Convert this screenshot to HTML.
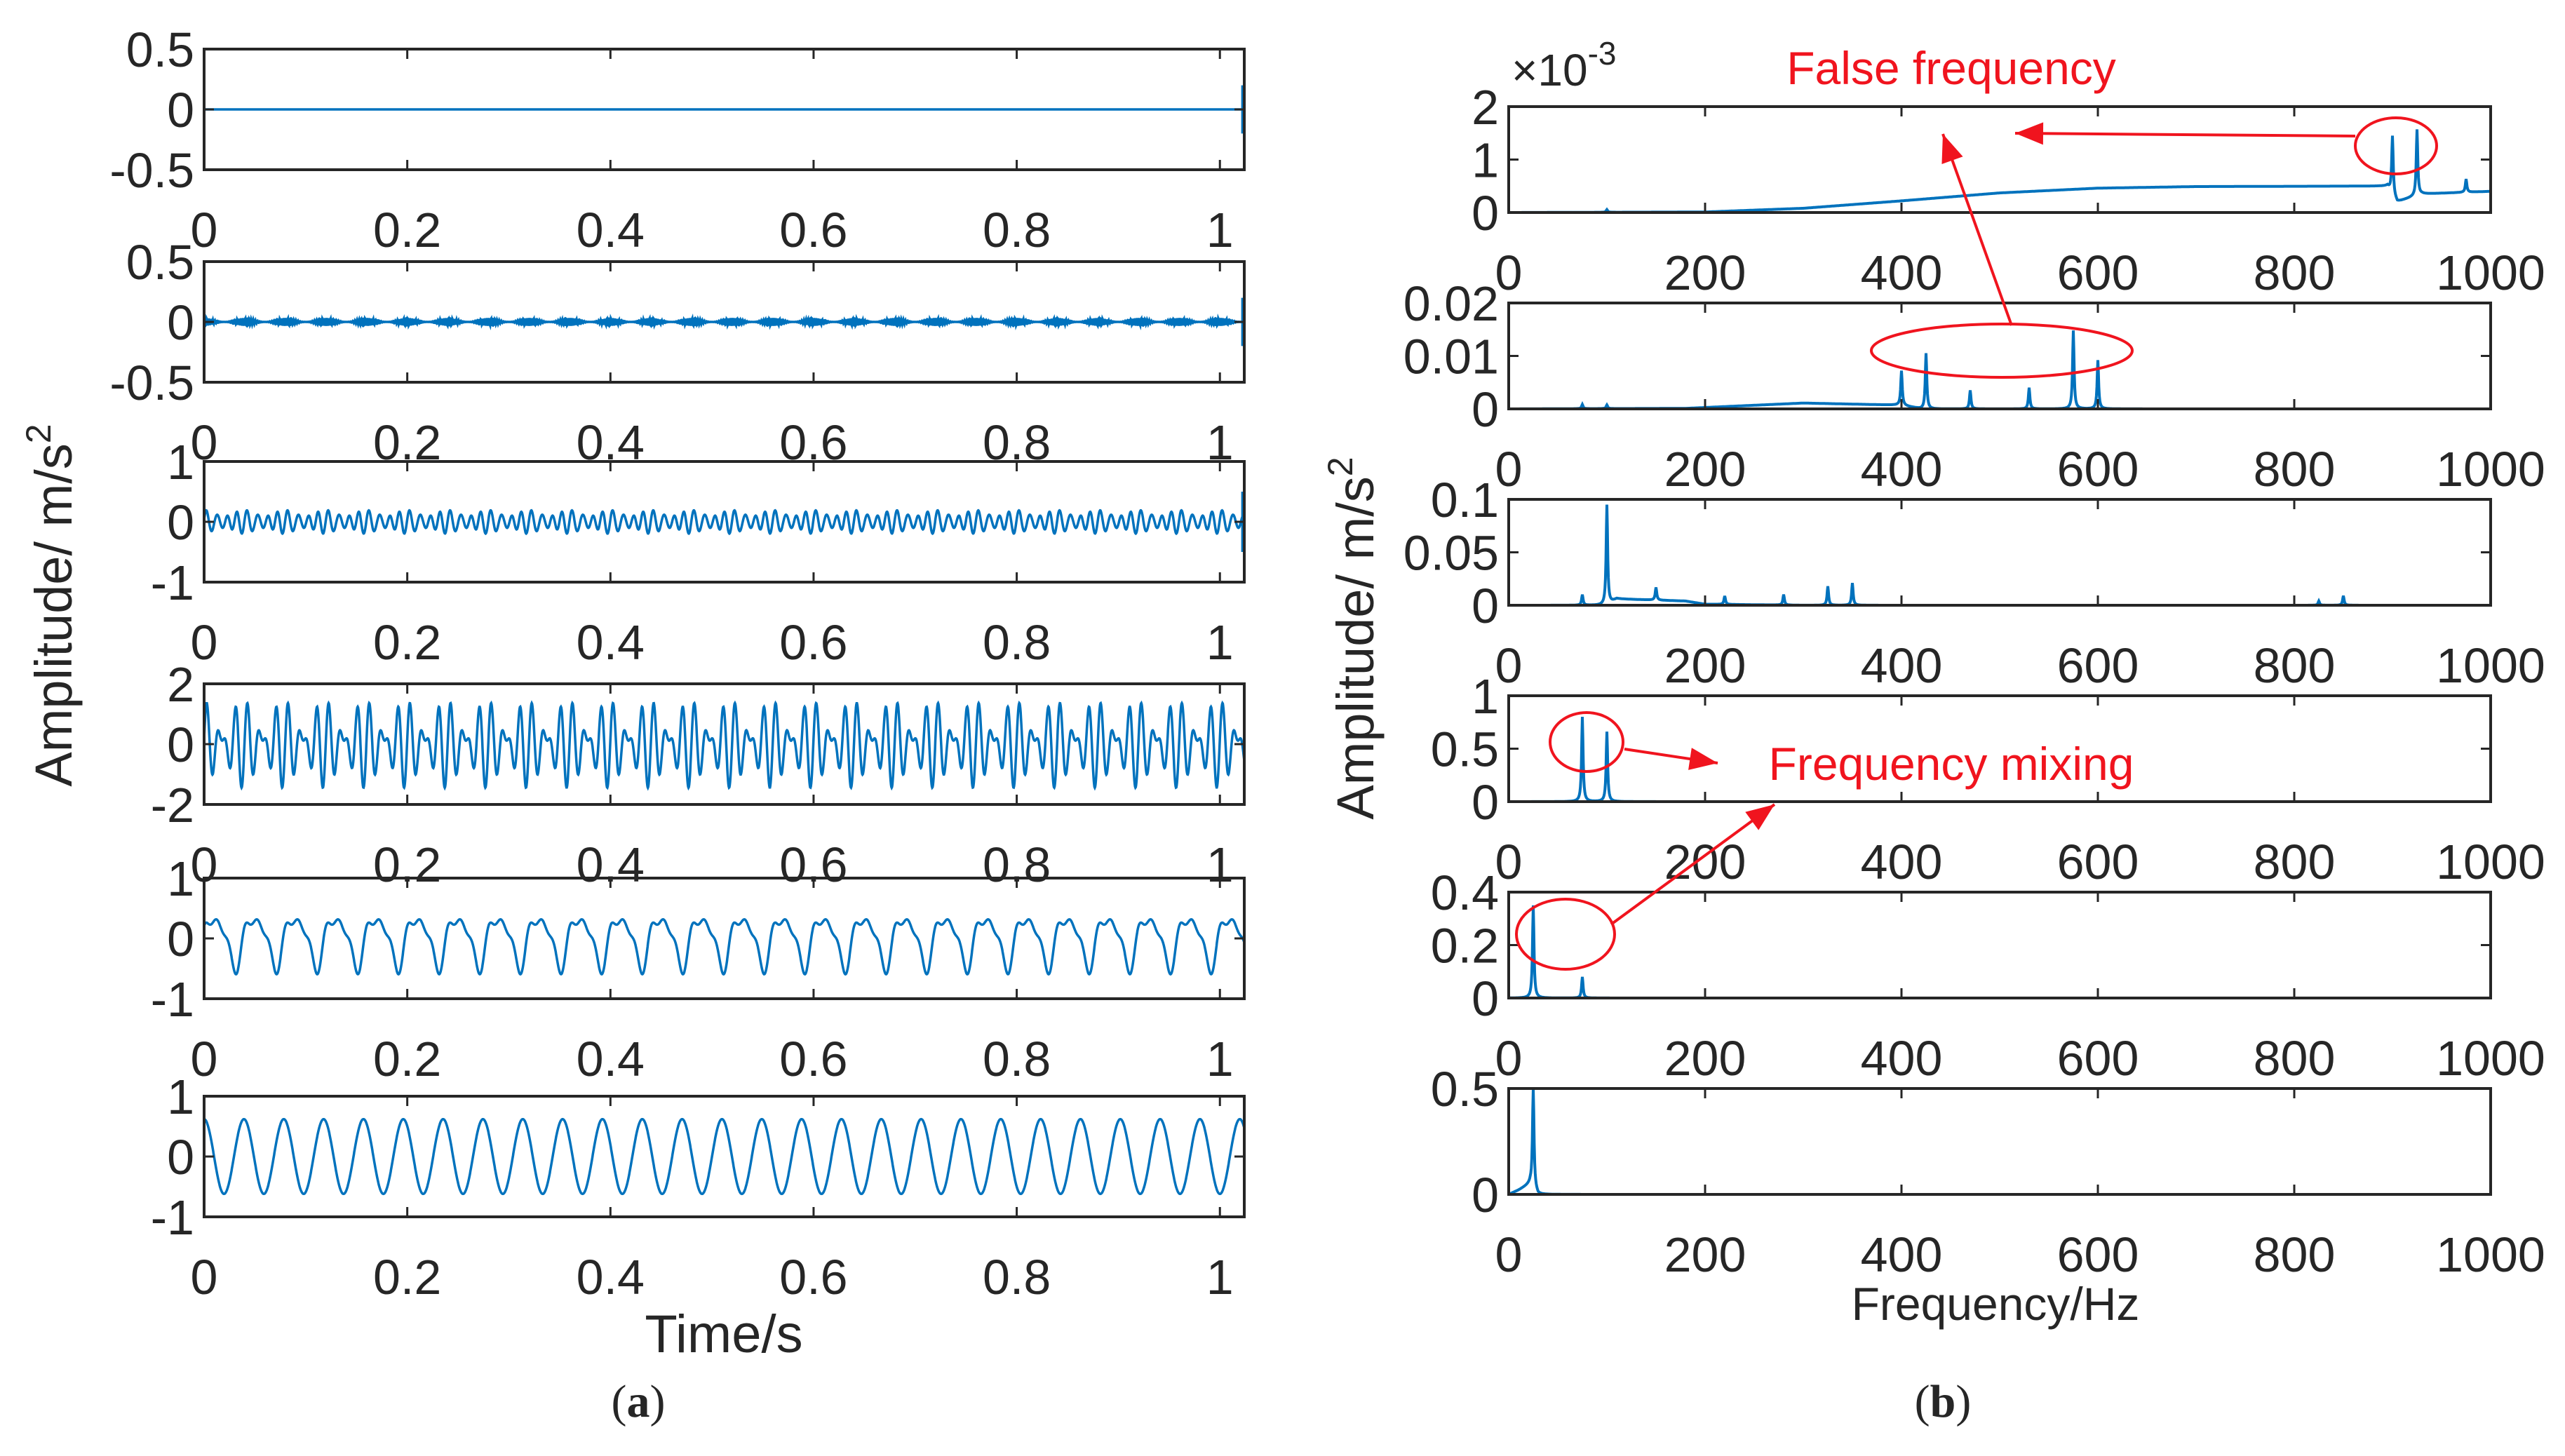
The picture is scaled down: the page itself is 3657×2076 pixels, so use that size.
<!DOCTYPE html>
<html><head><meta charset="utf-8"><style>
html,body{margin:0;padding:0;background:#fff}
svg{display:block}
text{font-family:"Liberation Sans",sans-serif;fill:#262626}
</style></head><body>
<svg id="fig" width="3657" height="2076" viewBox="0 0 3657 2076" xmlns="http://www.w3.org/2000/svg">
<g id="left"></g>
<g id="right"></g>
<text x="0" y="0" font-size="74" text-anchor="middle" transform="translate(102,863) rotate(-90)">Amplitude/  m/s<tspan dy="-30" font-size="50">2</tspan></text>
<text x="0" y="0" font-size="74" text-anchor="middle" transform="translate(1958,910) rotate(-90)">Amplitude/  m/s<tspan dy="-30" font-size="50">2</tspan></text>
<text x="1032" y="1928" font-size="76" text-anchor="middle">Time/s</text>
<text x="2845" y="1882" font-size="66" text-anchor="middle">Frequency/Hz</text>
<text x="910" y="2020" font-size="66" text-anchor="middle" style="font-family:'Liberation Serif',serif">(<tspan font-weight="bold">a</tspan>)</text>
<text x="2770" y="2020" font-size="66" text-anchor="middle" style="font-family:'Liberation Serif',serif">(<tspan font-weight="bold">b</tspan>)</text>
<text x="2155" y="122" font-size="64" fill="#444">×10<tspan dy="-30" font-size="46">-3</tspan></text>
<g id="annot">
<text x="2782" y="120" font-size="66" text-anchor="middle" style="fill:#f0141e">False frequency</text>
<text x="2782" y="1112" font-size="66" text-anchor="middle" style="fill:#f0141e">Frequency mixing</text>
<ellipse cx="3416" cy="208" rx="58" ry="40" fill="none" stroke="#f0141e" stroke-width="4"/>
<ellipse cx="2854" cy="500" rx="186" ry="38" fill="none" stroke="#f0141e" stroke-width="4"/>
<ellipse cx="2262" cy="1058" rx="52" ry="42" fill="none" stroke="#f0141e" stroke-width="4"/>
<ellipse cx="2232" cy="1332" rx="70" ry="50" fill="none" stroke="#f0141e" stroke-width="4"/>
</g>
</svg>
<script>
// ---------- data ----------
const timeTicks = [0, 0.2, 0.4, 0.6, 0.8, 1];
const timeTickLabels = ["0", "0.2", "0.4", "0.6", "0.8", "1"];
const freqTicks = [0, 200, 400, 600, 800, 1000];
const freqTickLabels = ["0", "200", "400", "600", "800", "1000"];
// time-domain components per panel: [freqHz, amplitude, phase]
const comp1 = [[0, 0, 0]];
const comp2 = [[500, 0.016, 0], [475, 0.008, 0], [525, 0.008, 0]];
const comp3 = [[100, 0.14, 0], [75, 0.04, 0.5], [125, 0.03, 1]];
const comp4 = [[75, 0.8, 0], [100, 0.65, 0.3]];
const comp5 = [[25, 0.38, 0], [50, 0.14, 1.2], [75, 0.09, 2.1]];
const comp6 = [[25.5, 0.62, 1.57]];
const timeYMin = [-0.5, -0.5, -1, -2, -1, -1];
const timeYMax = [0.5, 0.5, 1, 2, 1, 1];
const timeYTicks = [[-0.5, 0, 0.5], [-0.5, 0, 0.5], [-1, 0, 1], [-2, 0, 2], [-1, 0, 1], [-1, 0, 1]];
const timeYLabels = [["-0.5", "0", "0.5"], ["-0.5", "0", "0.5"], ["-1", "0", "1"], ["-2", "0", "2"], ["-1", "0", "1"], ["-1", "0", "1"]];
const endSpike = [0.4, 0.4, 0.5, 0, 0, 0];
// spectra: background knots [f, value] and peaks [f, height]
const bg1 = [[0, 0], [200, 0.01], [300, 0.08], [400, 0.22], [500, 0.37], [600, 0.46], [700, 0.49], [895, 0.5], [905, 0.2], [930, 0.35], [1000, 0.4]];
const pk1 = [[100, 0.05], [900, 1.1], [925, 1.25], [975, 0.25]];
const bg2 = [[0, 0], [180, 0.0001], [300, 0.0011], [400, 0.0007], [420, 0], [1000, 0]];
const pk2 = [[75, 0.0008], [100, 0.0007], [400, 0.0065], [425, 0.0105], [470, 0.0035], [530, 0.004], [575, 0.0148], [600, 0.0092]];
const bg3 = [[0, 0], [100, 0], [110, 0.006], [180, 0.004], [200, 0.001], [300, 0], [1000, 0]];
const pk3 = [[75, 0.01], [100, 0.095], [150, 0.012], [220, 0.008], [280, 0.01], [325, 0.018], [350, 0.021], [825, 0.004], [850, 0.009]];
const bg4 = [[0, 0], [1000, 0]];
const pk4 = [[75, 0.8], [100, 0.66]];
const bg5 = [[0, 0], [1000, 0]];
const pk5 = [[25, 0.35], [75, 0.08]];
const bg6 = [[0, 0], [10, 0.02], [22, 0.05], [30, 0], [1000, 0]];
const pk6 = [[25, 0.48]];
const specYMax = [2, 0.02, 0.1, 1, 0.4, 0.5];
const specYTicks = [[0, 1, 2], [0, 0.01, 0.02], [0, 0.05, 0.1], [0, 0.5, 1], [0, 0.2, 0.4], [0, 0.5]];
const specYLabels = [["0", "1", "2"], ["0", "0.01", "0.02"], ["0", "0.05", "0.1"], ["0", "0.5", "1"], ["0", "0.2", "0.4"], ["0", "0.5"]];

// ---------- layout ----------
const NS = "http://www.w3.org/2000/svg";
const BLUE = "#0072BD";
const leftBox = {x0: 291, x1: 1774};
const leftTops = [70, 373, 658, 975, 1252, 1563];
const leftH = 172;
const rightBox = {x0: 2151, x1: 3551};
const rightTops = [152, 432, 712, 992, 1272, 1552];
const rightH = 151;

function mk(tag, attrs, parent) {
  const e = document.createElementNS(NS, tag);
  for (const k in attrs) e.setAttribute(k, attrs[k]);
  parent.appendChild(e);
  return e;
}

function drawAxes(g, x0, x1, top, h, xt, xl, xmap, yt, yl, ymap, name) {
  const frame = mk("rect", {x: x0, y: top, width: x1 - x0, height: h, fill: "none", stroke: "#262626", "stroke-width": 4}, g);
  
  
  xt.forEach((v, i) => {
    const x = xmap(v);
    mk("line", {x1: x, x2: x, y1: top + h, y2: top + h - 14, stroke: "#262626", "stroke-width": 3}, g);
    mk("line", {x1: x, x2: x, y1: top, y2: top + 14, stroke: "#262626", "stroke-width": 3}, g);
    const t = mk("text", {x: x, y: top + h + 110, "font-size": 70, "text-anchor": "middle"}, g);
    
    
    t.textContent = xl[i];
  });
  yt.forEach((v, i) => {
    const y = ymap(v);
    mk("line", {x1: x0, x2: x0 + 14, y1: y, y2: y, stroke: "#262626", "stroke-width": 3}, g);
    mk("line", {x1: x1, x2: x1 - 14, y1: y, y2: y, stroke: "#262626", "stroke-width": 3}, g);
    const t = mk("text", {x: x0 - 14, y: y + 25, "font-size": 70, "text-anchor": "end"}, g);
    
    
    t.textContent = yl[i];
  });
}

// ---------- time domain ----------
const comps = [comp1, comp2, comp3, comp4, comp5, comp6];
const L = document.getElementById("left");
comps.forEach((cp, p) => {
  const g = mk("g", {}, L);
  
  
  const top = leftTops[p];
  const xmap = t => leftBox.x0 + t / 1.024 * (leftBox.x1 - leftBox.x0);
  const ymap = v => top + leftH - (v - timeYMin[p]) / (timeYMax[p] - timeYMin[p]) * leftH;
  let d = "";
  const N = 3000;
  for (let i = 0; i <= N; i++) {
    const t = i / N * 1.024;
    let v = 0;
    cp.forEach(c => { v += c[1] * Math.sin(2 * Math.PI * c[0] * t + c[2]); });
    d += (i ? "L" : "M") + xmap(t).toFixed(1) + "," + ymap(v).toFixed(1);
  }
  const line = mk("path", {d: d, fill: "none", stroke: BLUE, "stroke-width": 3.5}, g);
  
  
  if (endSpike[p] > 0) {
    const x = xmap(1.022);
    const s = mk("line", {x1: x, x2: x, y1: ymap(endSpike[p] * timeYMax[p]), y2: ymap(-endSpike[p] * timeYMax[p]), stroke: BLUE, "stroke-width": 3}, g);
    
    
  }
  drawAxes(g, leftBox.x0, leftBox.x1, top, leftH, timeTicks, timeTickLabels, xmap, timeYTicks[p], timeYLabels[p], ymap, 'time-' + (p + 1));
});

// ---------- spectra ----------
const bgs = [bg1, bg2, bg3, bg4, bg5, bg6];
const pks = [pk1, pk2, pk3, pk4, pk5, pk6];
const R = document.getElementById("right");
function bgAt(knots, f) {
  for (let i = 1; i < knots.length; i++) {
    if (f <= knots[i][0]) {
      const a = knots[i - 1], b = knots[i];
      const u = (f - a[0]) / (b[0] - a[0] || 1);
      return a[1] + u * (b[1] - a[1]);
    }
  }
  return knots[knots.length - 1][1];
}
bgs.forEach((bg, p) => {
  const g = mk("g", {}, R);
  
  
  const top = rightTops[p];
  const xmap = f => rightBox.x0 + f / 1000 * (rightBox.x1 - rightBox.x0);
  const ymap = v => top + rightH - v / specYMax[p] * rightH;
  let d = "";
  const step = 0.5;
  for (let f = 0, i = 0; f <= 1000; f += step, i++) {
    let v = bgAt(bg, f);
    pks[p].forEach(k => { const z = (f - k[0]) / 0.9; v += k[1] / (1 + z * z); });
    d += (i ? "L" : "M") + xmap(f).toFixed(1) + "," + Math.max(top, ymap(v)).toFixed(1);
  }
  const line = mk("path", {d: d, fill: "none", stroke: BLUE, "stroke-width": 4}, g);
  
  
  drawAxes(g, rightBox.x0, rightBox.x1, top, rightH, freqTicks, freqTickLabels, xmap, specYTicks[p], specYLabels[p], ymap, 'spectrum-' + (p + 1));
});

// ---------- arrows ----------
const A = document.getElementById("annot");
const arrows = [[3358, 194, 2873, 190], [2868, 464, 2770, 191], [2316, 1068, 2449, 1088], [2297, 1318, 2530, 1147]];
arrows.forEach((a, i) => {
  const g = mk("g", {}, A);
  
  
  mk("line", {x1: a[0], y1: a[1], x2: a[2], y2: a[3], stroke: "#f0141e", "stroke-width": 4}, g);
  const ang = Math.atan2(a[3] - a[1], a[2] - a[0]);
  const L2 = 40, W = 16;
  const bx = a[2] - L2 * Math.cos(ang), by = a[3] - L2 * Math.sin(ang);
  const px = -Math.sin(ang) * W, py = Math.cos(ang) * W;
  mk("polygon", {points: `${a[2]},${a[3]} ${bx + px},${by + py} ${bx - px},${by - py}`, fill: "#f0141e"}, g);
});
</script>
</body></html>
